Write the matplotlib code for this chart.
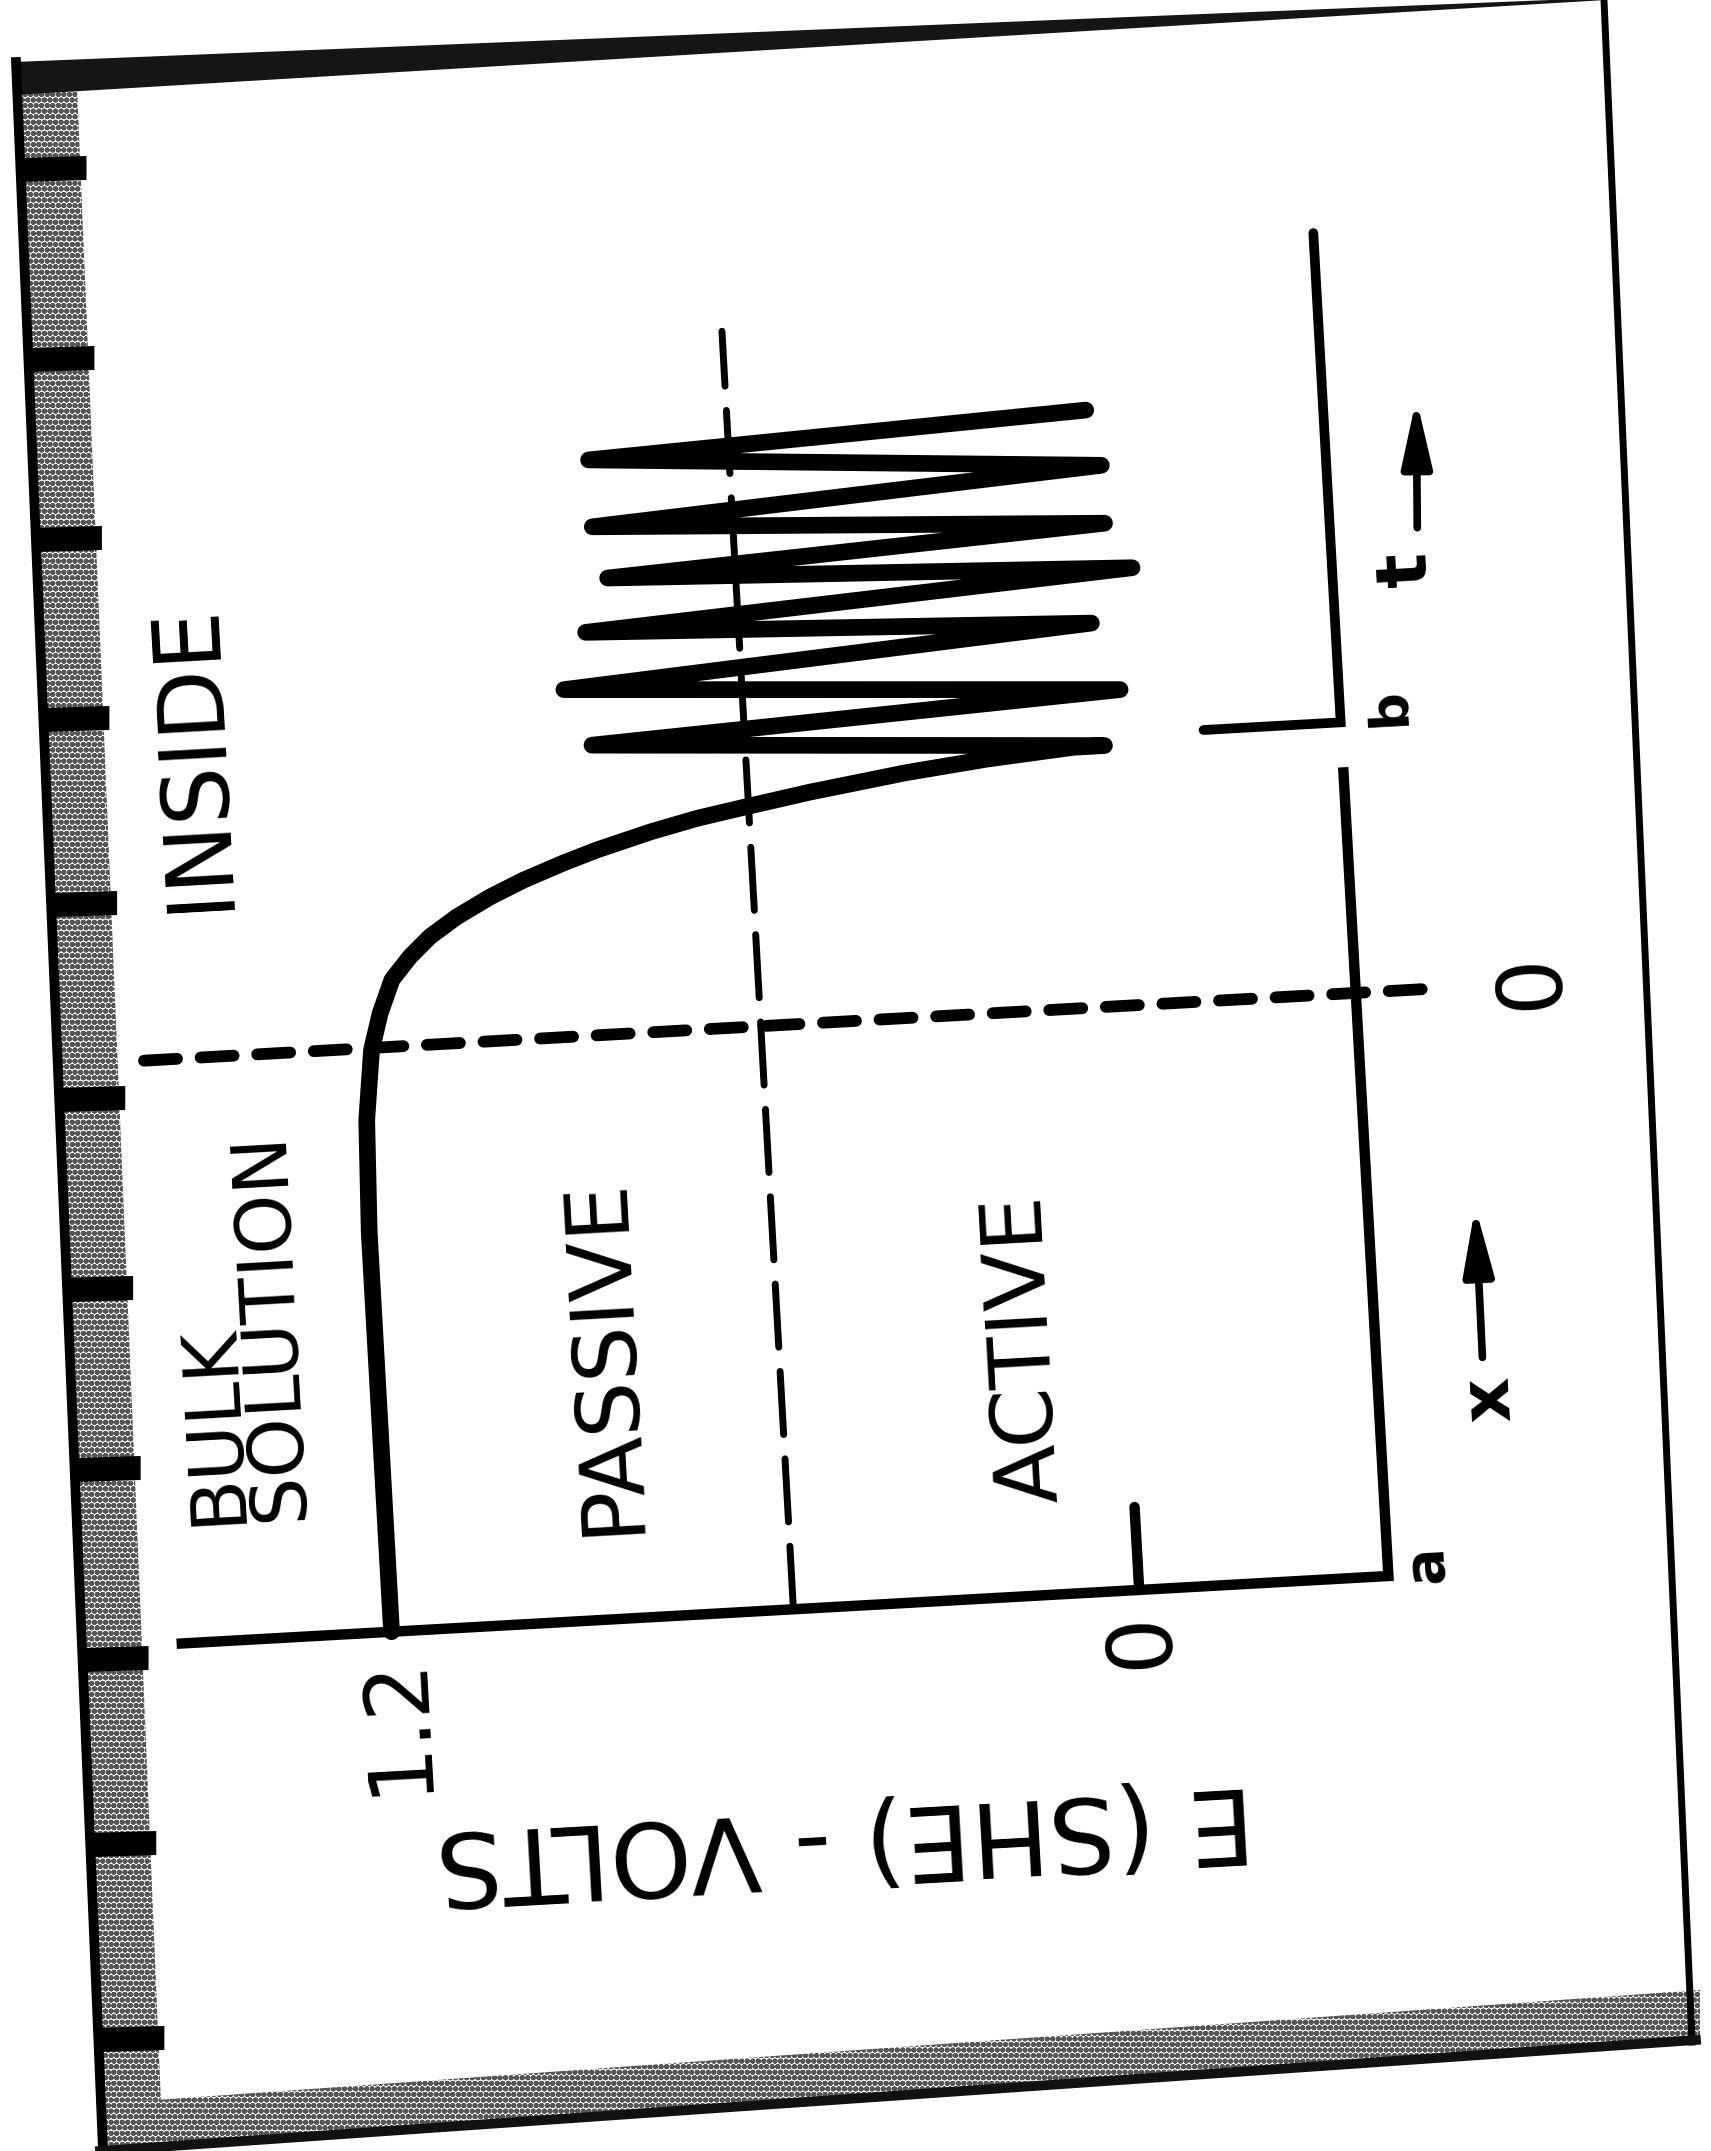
import matplotlib
matplotlib.use("Agg")
import matplotlib.pyplot as plt
from matplotlib.transforms import Affine2D
from matplotlib.patches import Polygon, FancyArrowPatch, ArrowStyle

plt.rcParams['font.family'] = ['DejaVu Sans']
plt.rcParams['hatch.linewidth'] = 2.0

W, H, DPI = 1711, 2151, 100

# ---------------- data ----------------
# potential E (V vs SHE) along the pit: position from a (bulk) past 0 (mouth) to b (tip)
profile_pos = [0.0, 1.2, 2.6, 4.0, 5.12, 5.82, 6.18, 6.51, 6.73, 6.92, 7.10, 7.28,
               7.43, 7.58, 7.69, 7.84, 7.95, 8.04, 8.15, 8.29, 8.38, 8.45]
profile_E = [1.20, 1.20, 1.20, 1.20, 1.194, 1.18, 1.163, 1.141, 1.11, 1.076, 1.032, 0.977,
             0.922, 0.856, 0.802, 0.715, 0.639, 0.558, 0.455, 0.30, 0.17, 0.03]
# oscillation of E at the tip with time t (after b)
osc_t = [8.45, 8.74, 9.00, 9.31, 9.68, 9.87, 10.21, 10.40, 10.67, 10.92, 11.25, 11.59, 11.81]
osc_E = [-0.02, 0.80, -0.05, 0.84, -0.01, 0.80, -0.08, 0.76, -0.04, 0.78, -0.04, 0.78, -0.02]

E_tick_values = [1.2, 0.0]
E_tick_labels = ['1.2', '0']
E_passivation = 0.555
E_axis_top = 1.545
E_axis_bottom = -0.40
E_tick0_len = 0.83
pos_mouth = 5.84
pos_axis_break = 8.1
pos_b = 8.55
E_b_stub = -0.18
pos_t_end = 13.45
pos_passive_top = 12.8
E_mouth_end = -0.54

region_labels = ['INSIDE', 'PASSIVE', 'ACTIVE']
region_E = [1.44, 0.835, 0.16]
region_pos = [8.85, 2.64, 2.47]
region_size = [66, 63, 62]

# ---------------- figure ----------------
fig = plt.figure(figsize=(W / DPI, H / DPI), dpi=DPI)
fig.patch.set_facecolor('white')

# decorative scan frame (image pixel space)
bg = fig.add_axes([0, 0, 1, 1], zorder=0)
bg.set_xlim(0, W)
bg.set_ylim(H, 0)
bg.axis('off')


def left_x(y):
    return 16 + (y - 62) * (87 / 2089)


strip_w = 60
bg.add_patch(Polygon([(left_x(62), 62), (left_x(62) + strip_w, 62),
                      (left_x(H) + strip_w, H), (left_x(H), H)],
                     closed=True, facecolor='white', edgecolor='#555555',
                     hatch='ooo', lw=0))
for yc in [170, 360, 540, 720, 905, 1100, 1290, 1470, 1660, 1845, 2040]:
    x0 = left_x(yc)
    bg.add_patch(Polygon([(x0, yc - 12), (x0 + strip_w + 6, yc - 14),
                          (x0 + strip_w + 6, yc + 10), (x0, yc + 12)],
                         closed=True, facecolor='black', lw=0))
bg.plot([left_x(62), left_x(H)], [62, H], color='black', lw=7)
# top band
bg.add_patch(Polygon([(14, 62), (1550, 0), (1606, 0), (14, 95)], closed=True,
                     facecolor='#151515', lw=0))
# right edge
bg.plot([1604, 1692], [0, 2042], color='black', lw=5)
# bottom band
bg.add_patch(Polygon([(100, 2151), (100, 2104), (1700, 1990), (1700, 2042)],
                     closed=True, facecolor='white', edgecolor='#555555',
                     hatch='ooo', lw=0))
bg.plot([100, 1696], [2151, 2040], color='#111111', lw=7)

# data axes: E runs leftwards, position / time runs upwards, scan tilt applied
ax = fig.add_axes([0, 0, 1, 1], zorder=1)
ax.set_xlim(1110 / 624, (1110 - W) / 624)
ax.set_ylim(-5.46, (H - 546) / 100)
ax.axis('off')
ax.patch.set_alpha(0)
ROT = 3.2
tilt = Affine2D().rotate_deg_around(855, H - 1075, ROT)
tr = ax.transData + tilt

# axes lines
ax.plot([E_axis_top, E_axis_bottom, E_axis_bottom], [0, 0, pos_axis_break],
        color='black', lw=7.5, solid_joinstyle='miter', solid_capstyle='butt', transform=tr)
ax.plot([0.0, 0.0], [0, E_tick0_len], color='black', lw=7.5,
        solid_capstyle='round', transform=tr)
ax.plot([E_b_stub, E_axis_bottom, E_axis_bottom], [pos_b, pos_b, pos_t_end],
        color='black', lw=7, solid_joinstyle='miter', solid_capstyle='round', transform=tr)

# dashed guide lines
ax.plot([E_axis_top, E_mouth_end], [pos_mouth, pos_mouth], color='black', lw=8.5,
        dashes=(2.8, 2.0), dash_capstyle='round', transform=tr)
ax.plot([E_passivation, E_passivation], [0, pos_passive_top], color='black', lw=5,
        dashes=(9.1, 3.5), dash_capstyle='round', transform=tr)

# potential profile + oscillation
ax.plot(profile_E + osc_E, profile_pos + osc_t, color='black', lw=12,
        solid_joinstyle='round', solid_capstyle='round', transform=tr)

# arrows
for (e0, p0, e1, p1) in [(-0.57, 2.13, -0.572, 3.64), (-0.54, 10.45, -0.55, 11.74)]:
    arr = FancyArrowPatch((e0, p0), (e1, p1), transform=tr,
                          arrowstyle=ArrowStyle('-|>', head_length=40, head_width=9),
                          mutation_scale=1, lw=5.5, color='black',
                          shrinkA=0, shrinkB=0)
    ax.add_patch(arr)

# texts
for s, e, p, fs in zip(region_labels, region_E, region_pos, region_size):
    ax.text(e, p, s, transform=tr, rotation=90 + ROT, rotation_mode='anchor',
            ha='center', va='center', fontsize=fs)
ax.text(1.465, 1.17, 'BULK', transform=tr, rotation=90 + ROT, rotation_mode='anchor',
        ha='left', va='center', fontsize=55)
ax.text(1.365, 1.17, 'SOLUTION', transform=tr, rotation=90 + ROT, rotation_mode='anchor',
        ha='left', va='center', fontsize=55)
ax.text(0.492, -2.32, 'E (SHE) - VOLTS', transform=tr, rotation=180 + ROT,
        rotation_mode='anchor', ha='center', va='center', fontsize=75)
for v, lab in zip(E_tick_values, E_tick_labels):
    ax.text(v, -0.22, lab, transform=tr, rotation=90 + ROT, rotation_mode='anchor',
            ha='right', va='center', fontsize=64)
ax.text(-0.683, pos_mouth + 0.02, '0', transform=tr, rotation=90 + ROT,
        rotation_mode='anchor', ha='center', va='center', fontsize=64)
ax.text(-0.463, 0.10, 'a', transform=tr, rotation=90 + ROT, rotation_mode='anchor',
        ha='center', va='center', fontsize=40, fontweight='bold')
ax.text(-0.478, 8.68, 'b', transform=tr, rotation=90 + ROT, rotation_mode='anchor',
        ha='center', va='center', fontsize=38, fontweight='bold')
ax.text(-0.52, 10.05, 't', transform=tr, rotation=90 + ROT, rotation_mode='anchor',
        ha='center', va='center', fontsize=52, fontweight='bold')
ax.text(-0.577, 1.71, 'x', transform=tr, rotation=90 + ROT, rotation_mode='anchor',
        ha='center', va='center', fontsize=50, fontweight='bold')

fig.savefig('out.png', dpi=DPI, facecolor='white')
